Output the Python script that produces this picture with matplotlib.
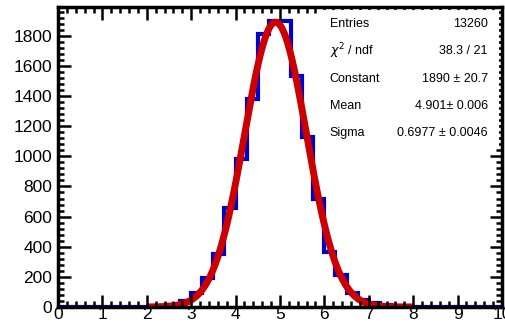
import numpy as np
import matplotlib.pyplot as plt
from matplotlib.ticker import MultipleLocator

plt.rcParams['font.family'] = ['Liberation Sans', 'DejaVu Sans']

# histogram: 40 bins of 0.25 from 0 to 10, only non-empty part read off
bin_edges = np.arange(0, 10.0001, 0.25)
counts = np.zeros(40)
first_bin = 9  # bin starting at 2.25
filled = [3, 10, 40, 90, 190, 355, 655, 985, 1380, 1810, 1895, 1895,
          1535, 1130, 720, 365, 212, 93, 45, 25, 10, 3]
counts[first_bin:first_bin + len(filled)] = filled

# fit result shown in the stats box
fit_const = 1890
fit_mean = 4.901
fit_sigma = 0.6977
fit_range = (2, 8)

stat_names = ['Entries', r'$\chi^2$ / ndf', 'Constant', 'Mean', 'Sigma']
stat_values = ['13260', '38.3 / 21', '1890 ± 20.7', '4.901± 0.006',
               '0.6977 ± 0.0046']


def main():
    fig = plt.figure(figsize=(5.06, 3.25), dpi=100)
    ax = fig.add_axes([0.1146, 0.0554, 0.8774, 0.9226])

    ax.stairs(counts, bin_edges, color='#0000cc', linewidth=3)

    xf = np.linspace(fit_range[0], fit_range[1], 400)
    yf = fit_const * np.exp(-0.5 * ((xf - fit_mean) / fit_sigma) ** 2)
    ax.plot(xf, yf, color='#cc0000', linewidth=5, solid_capstyle='butt')

    ax.set_xlim(0, 10)
    ax.set_ylim(0, 1990)
    ax.xaxis.set_major_locator(MultipleLocator(1))
    ax.xaxis.set_minor_locator(MultipleLocator(0.2))
    ax.yaxis.set_major_locator(MultipleLocator(200))
    ax.yaxis.set_minor_locator(MultipleLocator(40))
    ax.tick_params(which='both', direction='in', top=True, right=True,
                   width=1.8, labelsize=12.5, colors='black')
    ax.tick_params(which='major', length=9)
    ax.tick_params(which='minor', length=4)
    ax.tick_params(axis='x', pad=0)
    ax.tick_params(axis='y', pad=4)
    for s in ax.spines.values():
        s.set_linewidth(2.5)

    # stats box: white, no frame, hides the ticks under it
    box = plt.Rectangle((0.59, 0.538), 0.404, 0.452, transform=ax.transAxes,
                        facecolor='white', edgecolor='none', zorder=3)
    ax.add_patch(box)
    ax.set_axisbelow(False)
    y0 = 0.945
    dy = 0.0915
    for i, (n, v) in enumerate(zip(stat_names, stat_values)):
        y = y0 - i * dy
        ax.text(0.612, y, n, transform=ax.transAxes, fontsize=9,
                va='center', ha='left', zorder=4)
        ax.text(0.968, y, v, transform=ax.transAxes, fontsize=9,
                va='center', ha='right', zorder=4)

    plt.savefig('out.png')


if __name__ == '__main__':
    main()
